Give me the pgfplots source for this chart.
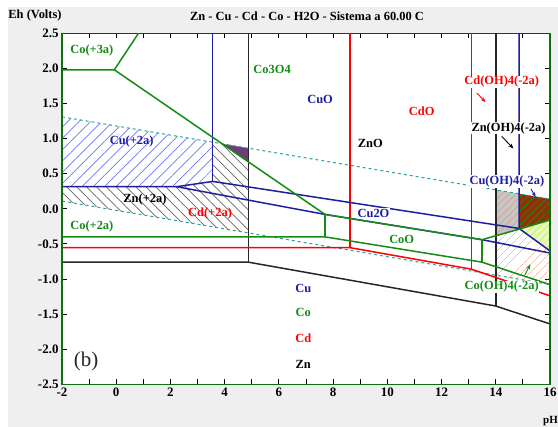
\documentclass[border=0pt]{standalone}
\usepackage{pgfplots}
\pgfplotsset{compat=1.18}
\usepackage{fontspec}
\setmainfont{Liberation Serif}
\usetikzlibrary{patterns.meta,arrows.meta}
\definecolor{cublue}{RGB}{30,30,160}
\definecolor{cogreen}{RGB}{20,140,20}
\definecolor{cdred}{RGB}{255,0,0}
\definecolor{h2o}{RGB}{40,160,160}
\definecolor{bg}{RGB}{239,239,239}
\definecolor{salmon}{RGB}{225,150,120}
\definecolor{brownr}{RGB}{150,45,10}
\definecolor{lgreen}{RGB}{232,246,200}
\definecolor{purp}{RGB}{110,60,120}
\tikzset{
  lbl/.style={font=\bfseries\fontsize{12.5}{13}\selectfont, inner sep=0.5pt},
  ln/.style={line width=1.5pt},
  arr/.style={line width=0.9pt, -{Stealth[length=5pt,width=4pt]}},
}
\begin{document}
\begin{tikzpicture}
\useasboundingbox (-62bp,-42.7bp) rectangle (496bp,384.3bp);
\fill[bg] (-54bp,-42.7bp) rectangle (496bp,377.3bp);
\begin{axis}[at={(0,0)}, anchor=south west,
  width=488bp, height=351bp, scale only axis,
  xmin=-2, xmax=16, ymin=-2.5, ymax=2.5,
  axis background/.style={fill=white},
  xtick={-2,0,...,16}, minor xtick={-1,1,...,15},
  ytick={-2.5,-2,-1.5,-1,-0.5,0,0.5,1,1.5,2,2.5},
  tick align=inside, major tick length=5bp, minor tick length=5bp,
  every tick/.style={black, line width=1pt},
  ticklabel style={font=\bfseries\fontsize{13}{14}\selectfont},
  /pgf/number format/assume math mode=true,
  yticklabel style={/pgf/number format/.cd, fixed, fixed zerofill, precision=1},
  axis line style={black!80, line width=1.5pt},
]
% ---- hatched areas ----
\addplot[draw=none, pattern={Lines[angle=45,distance=8bp,line width=0.7pt]}, pattern color=blue!55]
  coordinates {(-2,0.315) (2.23,0.315) (3.56,0.39) (3.56,0.949) (-2,1.31)} -- cycle;
\addplot[draw=none, pattern={Lines[angle=-45,distance=7bp,line width=0.7pt]}, pattern color=black!60]
  coordinates {(-2,0.315) (2.23,0.315) (3.56,0.39) (3.56,0.949) (3.905,0.926) (4.87,0.670) (4.87,-0.343) (-2,0.11)} -- cycle;
\addplot[draw=none, fill=purp]
  coordinates {(3.905,0.926) (4.87,0.863) (4.87,0.670)} -- cycle;
\addplot[draw=none, fill=gray!45]
  coordinates {(14,0.27) (14.86,0.214) (14.86,-0.29) (14,-0.384)} -- cycle;
\addplot[draw=none, pattern={Lines[angle=45,distance=5bp,line width=0.5pt]}, pattern color=salmon]
  coordinates {(14,0.27) (14.86,0.214) (14.86,-0.29) (14,-0.384)} -- cycle;
\addplot[draw=none, fill=brownr]
  coordinates {(14.86,0.214) (16,0.14) (16,-0.16) (14.86,-0.29)} -- cycle;
\addplot[draw=none, pattern={Lines[angle=45,distance=5bp,line width=0.8pt]}, pattern color=green!60!black]
  coordinates {(14.86,0.214) (16,0.14) (16,-0.16) (14.86,-0.29)} -- cycle;
\addplot[draw=none, fill=lgreen]
  coordinates {(14.86,-0.29) (16,-0.16) (16,-0.60)} -- cycle;
\addplot[draw=none, pattern={Lines[angle=45,distance=5bp,line width=0.5pt]}, pattern color=yellow!70!green]
  coordinates {(14.86,-0.29) (16,-0.16) (16,-0.60)} -- cycle;
\addplot[draw=none, pattern={Lines[angle=45,distance=6bp,line width=0.5pt]}, pattern color=salmon]
  coordinates {(14,-0.384) (14.86,-0.29) (16,-0.60) (16,-1.08) (14,-0.98)} -- cycle;
% ---- water lines ----
\addplot[h2o, line width=1pt, dash pattern=on 3pt off 3pt] coordinates {(-2,1.31) (16,0.14)};
\addplot[h2o, line width=1pt, dash pattern=on 3pt off 3pt] coordinates {(-2,0.11) (16,-1.078)};
% ---- Zn (black) ----
\addplot[black!85, ln] coordinates {(4.87,2.5) (4.87,-0.76)};
\addplot[black!85, ln] coordinates {(-2,-0.76) (4.87,-0.76) (14,-1.385) (16,-1.64)};
\addplot[black!85, ln] coordinates {(14,2.5) (14,-1.385)};
% ---- Cd (red) ----
\addplot[cdred, ln] coordinates {(8.63,2.5) (8.63,-0.554)};
\addplot[cdred, ln] coordinates {(13.1,2.5) (13.1,-0.86)};
\addplot[cdred, ln] coordinates {(-2,-0.554) (8.63,-0.554) (13.1,-0.86) (16,-1.24)};
% ---- Cu (blue) ----
\addplot[cublue, ln] coordinates {(3.56,2.5) (3.56,0.39)};
\addplot[cublue, ln] coordinates {(-2,0.315) (2.23,0.315) (3.56,0.39) (14.86,-0.28)};
\addplot[cublue, ln] coordinates {(2.23,0.315) (7.7,-0.08) (13.49,-0.44) (16,-0.63)};
\addplot[cublue, ln] coordinates {(14.86,2.5) (14.86,-0.28) (16,-0.60)};
% ---- Co (green) ----
\addplot[cogreen, ln] coordinates {(-2,1.98) (-0.07,1.98) (0.82,2.5)};
\addplot[cogreen, ln] coordinates {(-0.07,1.98) (7.7,-0.08) (13.49,-0.44) (14.86,-0.29) (16,-0.16)};
\addplot[cogreen, ln] coordinates {(7.7,-0.08) (7.7,-0.40)};
\addplot[cogreen, ln] coordinates {(13.49,-0.44) (13.49,-0.76)};
\addplot[cogreen, ln] coordinates {(-2,-0.40) (7.7,-0.40) (13.49,-0.76) (16,-1.08)};
% ---- arrows ----
\addplot[cdred, arr] coordinates {(13.3,1.65) (13.62,1.52)};
\addplot[black, arr] coordinates {(14.22,1.03) (14.65,0.86)};
\addplot[cogreen, arr] coordinates {(15.08,-0.94) (15.27,-0.79)};
\addplot[cublue, arr] coordinates {(15.3,0.28) (15.47,0.17)};
% ---- labels ----
\node[lbl, cogreen] at (axis cs:-0.9,2.26) {Co(+3a)};
\node[lbl, cogreen] at (axis cs:5.75,1.98) {Co3O4};
\node[lbl, cublue] at (axis cs:7.52,1.56) {CuO};
\node[lbl, cdred] at (axis cs:11.27,1.39) {CdO};
\node[lbl, black] at (axis cs:9.37,0.93) {ZnO};
\node[lbl, cdred, fill=white] at (axis cs:14.22,1.81) {Cd(OH)4(-2a)};
\node[lbl, black, fill=white] at (axis cs:14.47,1.15) {Zn(OH)4(-2a)};
\node[lbl, cublue, fill=white] at (axis cs:14.41,0.39) {Cu(OH)4(-2a)};
\node[lbl, cublue] at (axis cs:0.57,0.96) {Cu(+2a)};
\node[lbl, black] at (axis cs:1.06,0.13) {Zn(+2a)};
\node[lbl, cdred] at (axis cs:3.46,-0.06) {Cd(+2a)};
\node[lbl, cogreen] at (axis cs:-0.9,-0.25) {Co(+2a)};
\node[lbl, cublue, fill=white] at (axis cs:9.49,-0.06) {Cu2O};
\node[lbl, cogreen] at (axis cs:10.53,-0.44) {CoO};
\node[lbl, cogreen, fill=white] at (axis cs:14.22,-1.11) {Co(OH)4(-2a)};
\node[lbl, cublue] at (axis cs:6.9,-1.13) {Cu};
\node[lbl, cogreen] at (axis cs:6.9,-1.47) {Co};
\node[lbl, cdred] at (axis cs:6.9,-1.84) {Cd};
\node[lbl, black] at (axis cs:6.9,-2.22) {Zn};
\node[font=\fontsize{21}{22}\selectfont, black!85] at (axis cs:-1.11,-2.18) {(b)};
\end{axis}
\draw[cogreen!80!black, line width=1.5pt] (0,351bp) -- (0,0) -- (488bp,0) -- (488bp,351bp);
\node[font=\bfseries\fontsize{12.5}{13}\selectfont] at (245bp,368.3bp) {Zn - Cu - Cd - Co - H2O - Sistema a 60.00 C};
\node[font=\bfseries\fontsize{12.5}{13}\selectfont] at (-27bp,368.3bp) {Eh (Volts)};
\node[font=\bfseries\fontsize{11}{12}\selectfont, anchor=west, inner sep=0pt] at (481bp,-36.7bp) {pH};
\end{tikzpicture}
\end{document}
